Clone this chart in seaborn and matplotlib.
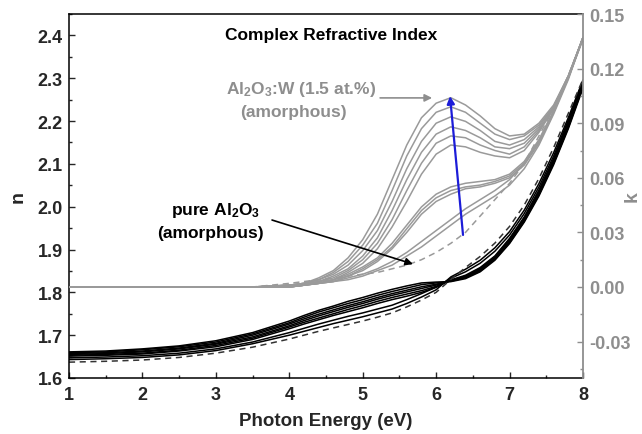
import matplotlib
matplotlib.use("Agg")
import matplotlib.pyplot as plt
from matplotlib.ticker import MultipleLocator, FormatStrFormatter
import seaborn as sns

# ---------------- data ----------------
energy = [1, 1.5, 2, 2.5, 3, 3.5, 4, 4.2, 4.4, 4.6, 4.8, 5, 5.2, 5.4, 5.6, 5.8,
          6, 6.2, 6.4, 6.6, 6.8, 7, 7.2, 7.4, 7.6, 7.8, 8]

# refractive index n (left axis) - Al2O3:W films (dense bundle)
n_w1 = [1.661, 1.663, 1.668, 1.675, 1.687, 1.706, 1.733, 1.746, 1.758, 1.768, 1.779, 1.788, 1.798, 1.807,
        1.815, 1.822, 1.824, 1.825, 1.832, 1.848, 1.875, 1.914, 1.964, 2.025, 2.098, 2.182, 2.277]
n_w2 = [1.659, 1.661, 1.666, 1.673, 1.684, 1.703, 1.729, 1.742, 1.754, 1.764, 1.774, 1.783, 1.793, 1.802,
        1.810, 1.818, 1.822, 1.826, 1.834, 1.850, 1.877, 1.916, 1.966, 2.028, 2.101, 2.185, 2.280]
n_w3 = [1.657, 1.659, 1.663, 1.670, 1.681, 1.700, 1.726, 1.738, 1.749, 1.759, 1.769, 1.778, 1.788, 1.797,
        1.805, 1.813, 1.819, 1.827, 1.835, 1.852, 1.879, 1.919, 1.969, 2.031, 2.104, 2.188, 2.283]
n_w4 = [1.655, 1.657, 1.661, 1.668, 1.679, 1.696, 1.722, 1.734, 1.745, 1.755, 1.765, 1.774, 1.784, 1.793,
        1.801, 1.809, 1.817, 1.827, 1.837, 1.854, 1.881, 1.921, 1.971, 2.033, 2.106, 2.192, 2.287]
n_w5 = [1.653, 1.655, 1.658, 1.665, 1.676, 1.693, 1.719, 1.730, 1.740, 1.750, 1.760, 1.769, 1.779, 1.788,
        1.796, 1.804, 1.814, 1.828, 1.838, 1.856, 1.883, 1.924, 1.974, 2.036, 2.109, 2.195, 2.290]
n_w6 = [1.651, 1.653, 1.656, 1.663, 1.673, 1.690, 1.715, 1.726, 1.736, 1.746, 1.755, 1.764, 1.774, 1.783,
        1.791, 1.800, 1.812, 1.829, 1.840, 1.858, 1.885, 1.926, 1.976, 2.039, 2.112, 2.198, 2.293]
n_w7 = [1.647, 1.649, 1.652, 1.658, 1.668, 1.684, 1.706, 1.716, 1.726, 1.735, 1.744, 1.752, 1.761, 1.770,
        1.783, 1.797, 1.812, 1.833, 1.848, 1.868, 1.896, 1.934, 1.984, 2.046, 2.118, 2.202, 2.294]
n_w8 = [1.643, 1.645, 1.648, 1.654, 1.664, 1.680, 1.700, 1.709, 1.718, 1.727, 1.735, 1.743, 1.752, 1.761,
        1.774, 1.789, 1.806, 1.836, 1.854, 1.875, 1.904, 1.942, 1.992, 2.054, 2.126, 2.208, 2.296]
# pure Al2O3 (dashed)
n_pure = [1.637, 1.639, 1.642, 1.648, 1.658, 1.672, 1.691, 1.700, 1.709, 1.717, 1.725, 1.733, 1.742, 1.752,
          1.766, 1.782, 1.800, 1.830, 1.858, 1.884, 1.915, 1.954, 2.004, 2.066, 2.138, 2.218, 2.298]

# extinction coefficient k (right axis)
k_w1 = [0, 0, 0, 0, 0, 0, 0.001, 0.002, 0.005, 0.009, 0.016, 0.026, 0.040, 0.059, 0.078, 0.093,
        0.101, 0.104, 0.100, 0.094, 0.087, 0.083, 0.084, 0.090, 0.100, 0.116, 0.137]
k_w2 = [0, 0, 0, 0, 0, 0, 0.001, 0.002, 0.004, 0.008, 0.014, 0.023, 0.035, 0.053, 0.072, 0.087,
        0.096, 0.099, 0.096, 0.090, 0.084, 0.081, 0.083, 0.089, 0.099, 0.116, 0.137]
k_w3 = [0, 0, 0, 0, 0, 0, 0.001, 0.002, 0.004, 0.007, 0.012, 0.020, 0.031, 0.047, 0.065, 0.080,
        0.090, 0.0935, 0.091, 0.086, 0.080, 0.078, 0.081, 0.088, 0.099, 0.116, 0.137]
k_w4 = [0, 0, 0, 0, 0, 0, 0.001, 0.002, 0.003, 0.006, 0.010, 0.017, 0.027, 0.042, 0.059, 0.074,
        0.084, 0.088, 0.086, 0.082, 0.077, 0.076, 0.079, 0.087, 0.098, 0.115, 0.137]
k_w5 = [0, 0, 0, 0, 0, 0, 0.001, 0.001, 0.003, 0.005, 0.009, 0.015, 0.024, 0.037, 0.053, 0.068,
        0.079, 0.083, 0.082, 0.078, 0.075, 0.073, 0.077, 0.086, 0.098, 0.115, 0.137]
k_w6 = [0, 0, 0, 0, 0, 0, 0.000, 0.001, 0.003, 0.004, 0.008, 0.013, 0.021, 0.033, 0.047, 0.062,
        0.073, 0.078, 0.077, 0.074, 0.072, 0.071, 0.075, 0.085, 0.098, 0.115, 0.136]
k_w7 = [0, 0, 0, 0, 0, 0, 0.000, 0.001, 0.002, 0.004, 0.007, 0.011, 0.016, 0.024, 0.034, 0.044,
        0.051, 0.055, 0.057, 0.058, 0.059, 0.062, 0.069, 0.081, 0.097, 0.115, 0.137]
k_w8 = [0, 0, 0, 0, 0, 0, 0.000, 0.001, 0.002, 0.004, 0.006, 0.010, 0.015, 0.022, 0.032, 0.042,
        0.049, 0.053, 0.055, 0.056, 0.058, 0.061, 0.068, 0.080, 0.096, 0.115, 0.137]
k_w9 = [0, 0, 0, 0, 0, 0, 0.000, 0.001, 0.002, 0.003, 0.006, 0.009, 0.014, 0.021, 0.030, 0.040,
        0.047, 0.051, 0.054, 0.055, 0.057, 0.060, 0.067, 0.079, 0.096, 0.115, 0.137]
k_w10 = [0, 0, 0, 0, 0, 0, 0.000, 0.001, 0.002, 0.003, 0.005, 0.007, 0.010, 0.014, 0.019, 0.025,
         0.031, 0.037, 0.043, 0.048, 0.053, 0.059, 0.068, 0.080, 0.096, 0.115, 0.137]
k_w11 = [0, 0, 0, 0, 0, 0, 0.000, 0.001, 0.002, 0.003, 0.004, 0.006, 0.009, 0.012, 0.017, 0.022,
         0.028, 0.034, 0.040, 0.045, 0.050, 0.056, 0.065, 0.078, 0.095, 0.114, 0.137]
k_pure = [0, 0, 0, 0, 0, 0, 0.002, 0.003, 0.004, 0.005, 0.006, 0.007, 0.008, 0.010, 0.012, 0.015,
          0.019, 0.024, 0.030, 0.039, 0.048, 0.057, 0.068, 0.083, 0.098, 0.116, 0.137]

n_series = [n_w1, n_w2, n_w3, n_w4, n_w5, n_w6, n_w7, n_w8]
k_series = [k_w1, k_w2, k_w3, k_w4, k_w5, k_w6, k_w7, k_w8, k_w9, k_w10, k_w11]

x_ticks = [1, 2, 3, 4, 5, 6, 7, 8]
n_ticks = [1.6, 1.7, 1.8, 1.9, 2.0, 2.1, 2.2, 2.3, 2.4]
k_ticks = [-0.03, 0.00, 0.03, 0.06, 0.09, 0.12, 0.15]

# ---------------- style ----------------
sns.set_style("ticks")
plt.rcParams['font.family'] = ['Liberation Sans', 'DejaVu Sans']
plt.rcParams['font.weight'] = 'bold'
plt.rcParams['axes.labelweight'] = 'bold'
plt.rcParams['mathtext.fontset'] = 'custom'
plt.rcParams['mathtext.rm'] = 'Liberation Sans:bold'
plt.rcParams['mathtext.it'] = 'Liberation Sans:bold'
plt.rcParams['mathtext.bf'] = 'Liberation Sans:bold'
plt.rcParams['axes.unicode_minus'] = False

GRAY = '#8e8e8e'
LGRAY = '#9a9a9a'

fig = plt.figure(figsize=(6.42, 4.35), dpi=100)
ax = fig.add_axes([69 / 642, 1 - 379 / 435, (583 - 69) / 642, (379 - 15) / 435])
ax2 = ax.twinx()

# n curves
for s in n_series:
    sns.lineplot(x=energy, y=s, ax=ax, color='black', lw=1.1, legend=False, errorbar=None)
sns.lineplot(x=energy, y=n_pure, ax=ax, color='#333333', lw=1.1, legend=False, errorbar=None)
ax.lines[-1].set_dashes([4, 3])

# k curves
for s in k_series:
    sns.lineplot(x=energy, y=s, ax=ax2, color=LGRAY, lw=1.1, legend=False, errorbar=None)
sns.lineplot(x=energy, y=k_pure, ax=ax2, color=LGRAY, lw=1.1, legend=False, errorbar=None)
ax2.lines[-1].set_dashes([4, 3])

# axes
ax.set_xlim(1, 8)
ax.set_ylim(1.6, 2.45)
ax2.set_ylim(-0.05, 0.15)
ax.set_xticks(x_ticks)
ax.set_yticks(n_ticks)
ax.yaxis.set_major_formatter(FormatStrFormatter('%.1f'))
ax.xaxis.set_minor_locator(MultipleLocator(0.5))
ax.yaxis.set_minor_locator(MultipleLocator(0.05))
ax2.set_yticks(k_ticks)
ax2.yaxis.set_major_formatter(FormatStrFormatter('%.2f'))
ax2.yaxis.set_minor_locator(MultipleLocator(0.015))

ax.tick_params(axis='both', which='major', direction='in', length=4.5, width=1,
               labelsize=13, pad=4.5, right=False, top=False)
ax.tick_params(axis='x', which='major', pad=6)
ax.tick_params(axis='both', which='minor', direction='in', length=2.5, width=1,
               right=False, top=False)
ax2.tick_params(axis='y', which='major', direction='in', length=4.5, width=1,
                labelsize=13, pad=4.5, colors=GRAY)
ax2.tick_params(axis='y', which='minor', direction='in', length=2.5, width=1, colors=GRAY)

for sp in ['left', 'bottom', 'top']:
    ax.spines[sp].set_color('black')
    ax.spines[sp].set_linewidth(1.1)
    ax2.spines[sp].set_visible(False)
ax.spines['right'].set_visible(False)
ax2.spines['right'].set_color(GRAY)
ax2.spines['right'].set_linewidth(1.3)

ax.set_xlabel('Photon Energy (eV)', fontsize=13.5, fontweight='bold', labelpad=6)
ax.set_ylabel('n', fontsize=14, fontweight='bold', labelpad=8)
ax2.set_ylabel('k', fontsize=14, fontweight='bold', color=GRAY)
ax2.yaxis.set_label_coords(1.079, 0.5)

# texts
ax.text(4.568, 2.403, 'Complex Refractive Index', ha='center', va='center',
        fontsize=12.5, fontweight='bold', color='black')
ax.text(4.16, 2.2655, r'Al$_2$O$_3$:W (1.5 at.%)', ha='center', va='baseline',
        fontsize=12.5, fontweight='bold', color=GRAY)
ax.text(4.06, 2.2118, '(amorphous)', ha='center', va='baseline',
        fontsize=12.5, fontweight='bold', color=GRAY)
ax.text(3.0, 1.983, r'pure Al$_2$O$_3$', ha='center', va='baseline',
        fontsize=12.5, fontweight='bold', color='black')
ax.text(2.93, 1.929, '(amorphous)', ha='center', va='baseline',
        fontsize=12.5, fontweight='bold', color='black')

# arrows (k-axis coordinates)
ax2.annotate('', xy=(5.945, 0.1039), xytext=(5.237, 0.1039),
             arrowprops=dict(arrowstyle='-|>', color=GRAY, lw=1.2, mutation_scale=11,
                             shrinkA=0, shrinkB=0))
ax2.annotate('', xy=(5.685, 0.0126), xytext=(3.765, 0.0368),
             arrowprops=dict(arrowstyle='-|>', color='black', lw=1.2, mutation_scale=11,
                             shrinkA=0, shrinkB=0))
ax2.annotate('', xy=(6.189, 0.1049), xytext=(6.366, 0.0286),
             arrowprops=dict(arrowstyle='-|>', color='#1c1cd8', lw=1.6, mutation_scale=11,
                             shrinkA=0, shrinkB=0))

fig.savefig('out.png', dpi=100)
